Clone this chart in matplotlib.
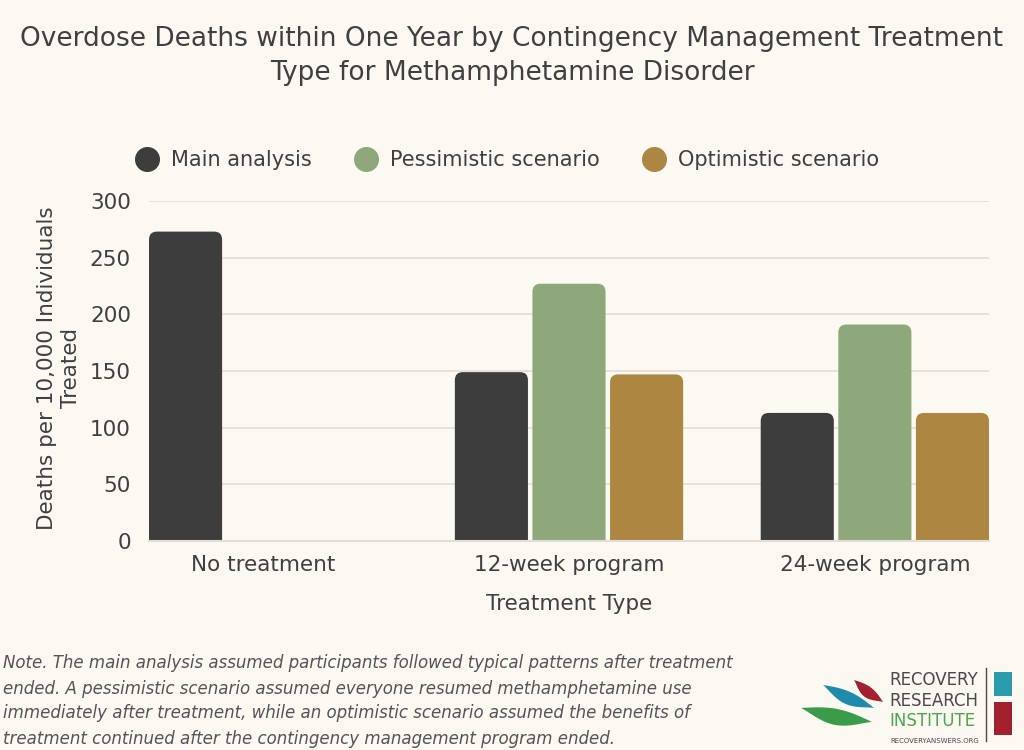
import numpy as np
import matplotlib
matplotlib.use("Agg")
import matplotlib.pyplot as plt
from matplotlib.patches import FancyBboxPatch, Polygon, Rectangle
from matplotlib.lines import Line2D

######################### DATA #########################

categories = ["No treatment", "12-week program", "24-week program"]
series_names = ["Main analysis", "Pessimistic scenario", "Optimistic scenario"]
main_values = [273, 149, 113]
pessimistic_values = [np.nan, 227, 191]
optimistic_values = [np.nan, 147, 113]
y_ticks = [0, 50, 100, 150, 200, 250, 300]

title = ("Overdose Deaths within One Year by Contingency Management Treatment\n"
         "Type for Methamphetamine Disorder")
note = ("Note. The main analysis assumed participants followed typical patterns after treatment\n"
        "ended. A pessimistic scenario assumed everyone resumed methamphetamine use\n"
        "immediately after treatment, while an optimistic scenario assumed the benefits of\n"
        "treatment continued after the contingency management program ended.")

######################### STYLE #########################

BG = "#FCF8F2"
TEXT = "#404040"
GRID = "#E2DDD7"
colors = ["#3D3D3D", "#8EA87C", "#AD8742"]

plt.rcParams.update({
    "font.family": "DejaVu Sans",
    "text.color": TEXT,
})

W, H = 1024, 750
fig = plt.figure(figsize=(W / 100, H / 100), dpi=100, facecolor=BG)


def fx(px):
    return px / W


def fy(py):
    return 1 - py / H


ax = fig.add_axes([fx(149), fy(541), fx(989) - fx(149), fy(201) - fy(541)])
ax.set_facecolor(BG)

##### BARS #####

step = 0.2537
width = 0.239
x = np.arange(len(categories))
all_series = [main_values, pessimistic_values, optimistic_values]
containers = []
for i, vals in enumerate(all_series):
    bc = ax.bar(x + (i - 1) * step, vals, width=width, color=colors[i], zorder=3)
    containers.append(bc)

ax.set_xlim(-step - width / 2, 2 + step + width / 2)
ax.set_ylim(0, 300)

# rounded tops: swap each rectangle for a rounded box of the same geometry
px_x = (ax.get_xlim()[1] - ax.get_xlim()[0]) / 840.0
px_y = 300 / 340.0
r = 8 * px_x
aspect = px_y / px_x
for i, bc in enumerate(containers):
    for rect in bc:
        h = rect.get_height()
        if not np.isfinite(h) or h <= 0:
            rect.remove()
            continue
        bx, bw = rect.get_x(), rect.get_width()
        rect.remove()
        ext = 20 * px_y
        patch = FancyBboxPatch((bx, -ext), bw, h + ext,
                               boxstyle=f"round,pad=0,rounding_size={r}",
                               mutation_aspect=aspect,
                               facecolor=colors[i], edgecolor="none", zorder=3)
        ax.add_patch(patch)

##### AXES #####

ax.set_yticks(y_ticks)
ax.set_xticks(x)
ax.set_xticklabels(categories)
ax.tick_params(axis="both", length=0, labelsize=15.5, colors=TEXT)
ax.tick_params(axis="y", pad=13)
ax.tick_params(axis="x", pad=10)
ax.grid(axis="y", color=GRID, linewidth=1.2, zorder=0)
ax.axhline(0, color=GRID, linewidth=1.5, zorder=4, clip_on=False)
for s in ax.spines.values():
    s.set_visible(False)

ax.set_xlabel("Treatment Type", fontsize=15.5, color=TEXT, labelpad=14)
fig.text(fx(59), fy(368), "Deaths per 10,000 Individuals\nTreated", rotation=90,
         ha="center", va="center", fontsize=15.5, color=TEXT, linespacing=1.3)

##### TITLE #####

fig.text(0.5, fy(56), title, ha="center", va="center", fontsize=19,
         color=TEXT, linespacing=1.4)

##### LEGEND #####

handles = [Line2D([], [], marker="o", linestyle="none", markersize=17,
                  markerfacecolor=c, markeredgecolor=c) for c in colors]
fig.legend(handles, series_names, loc="center", bbox_to_anchor=(fx(503), fy(160)),
           ncol=3, frameon=False, fontsize=15, handletextpad=0.15,
           columnspacing=1.6, labelcolor=TEXT)

##### NOTE #####

fig.text(fx(3), fy(701), note, ha="left", va="center", fontsize=12,
         style="italic", color="#555555", linespacing=1.5)

##### LOGO #####

def leaf(x0, y0, x1, y1, bulge, color):
    t = np.linspace(0, 1, 40)
    dx, dy = x1 - x0, y1 - y0
    nx, ny = -dy, dx
    norm = np.hypot(nx, ny)
    nx, ny = nx / norm, ny / norm
    upper = [(x0 + dx * tt + nx * bulge * np.sin(np.pi * tt) ** 1.2,
              y0 + dy * tt + ny * bulge * np.sin(np.pi * tt) ** 1.2) for tt in t]
    lower = [(x0 + dx * tt - nx * bulge * 0.6 * np.sin(np.pi * tt),
              y0 + dy * tt - ny * bulge * 0.6 * np.sin(np.pi * tt)) for tt in t[::-1]]
    pts = [(fx(a), fy(b)) for a, b in upper + lower]
    fig.patches.append(Polygon(pts, closed=True, facecolor=color,
                               edgecolor="none", transform=fig.transFigure))


leaf(854, 680, 883, 702, 7, "#A3202F")
leaf(823, 685, 874, 708, 8, "#1F8BAA")
leaf(801, 708, 872, 722, 10, "#3A9B48")

fig.text(fx(889), fy(680), "RECOVERY", fontsize=12, color="#4A4A4A", va="center", ha="left")
fig.text(fx(889), fy(701), "RESEARCH", fontsize=12, color="#4A4A4A", va="center", ha="left")
fig.text(fx(889), fy(721), "INSTITUTE", fontsize=12, color="#4CA64C", va="center", ha="left")
fig.text(fx(890), fy(741), "RECOVERYANSWERS.ORG", fontsize=5, color="#4A4A4A", va="center", ha="left")
fig.lines.append(Line2D([fx(986), fx(986)], [fy(668), fy(741)], color="#4A4A4A",
                        linewidth=1, transform=fig.transFigure))
fig.patches.append(Rectangle((fx(994), fy(696)), fx(18), fy(672) - fy(696),
                             facecolor="#2A9BAA", edgecolor="none", transform=fig.transFigure))
fig.patches.append(Rectangle((fx(994), fy(735)), fx(18), fy(702) - fy(735),
                             facecolor="#A3202F", edgecolor="none", transform=fig.transFigure))

fig.savefig("out.png", dpi=100, facecolor=BG)
